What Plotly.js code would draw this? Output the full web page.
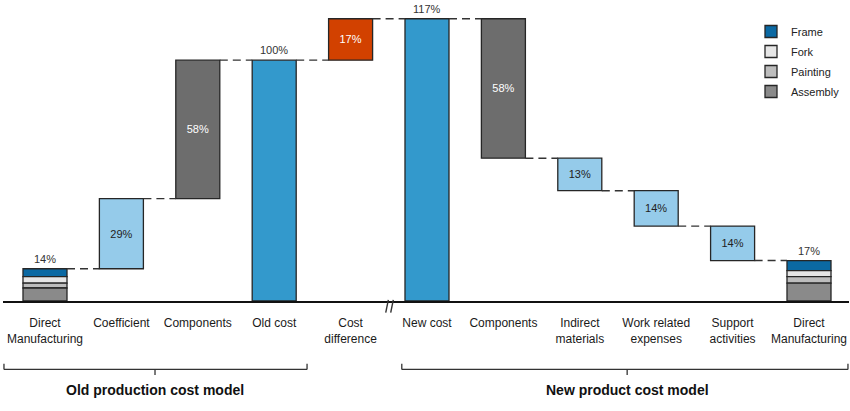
<!DOCTYPE html>
<html><head><meta charset="utf-8">
<script src="https://cdn.plot.ly/plotly-3.0.1.min.js"></script>
<style>html,body{margin:0;padding:0;background:#fff}#chart{width:850px;height:411px}</style>
</head><body><div id="chart"></div>
<script>
// ---- data ----
const categories = ['Direct<br>Manufacturing','Coefficient','Components','Old cost','Cost<br>difference','New cost','Components','Indirect<br>materials','Work related<br>expenses','Support<br>activities','Direct<br>Manufacturing'];
const barKinds = ['stack','step','step','total','step','total','step','step','step','step','stack'];
const barValues = [null, 29.1, 57.5, 100, 17.2, 117.2, -57.9, -13.5, -14.7, -14.3, null];
const valueLabels = ['14%','29%','58%','100%','17%','117%','58%','13%','14%','14%','17%'];
const stackPositions = [0, 10];
const frameValues = [3.3, 4.2];
const forkValues = [2.7, 2.5];
const paintingValues = [2.0, 2.7];
const assemblyValues = [5.4, 7.4];
const groupNames = ['Old production cost model','New product cost model'];
const groupRanges = [[-0.537, 3.43, 1.44], [4.67, 10.51, 7.62]];

// ---- styles ----
const barColors = ['', '#95cbea', '#6d6d6d', '#3399cc', '#d24100', '#3399cc', '#6d6d6d', '#95cbea', '#95cbea', '#95cbea', ''];
const textColors = ['', '#222', '#fff', '', '#fff', '', '#fff', '#222', '#222', '#222', ''];
const segColors = {Frame:'#0b69a3', Fork:'#e6e6e6', Painting:'#bdbdbd', Assembly:'#8a8a8a'};
const W = 0.576;
const edge = {color:'#262626', width:1.3};
const FONT = 'Liberation Sans, Arial, sans-serif';

// stack totals
const stackTotals = stackPositions.map((p,k)=>frameValues[k]+forkValues[k]+paintingValues[k]+assemblyValues[k]);

// running levels
let level = 0;
const bases = [], tops = [], after = [];
for (let i=0;i<categories.length;i++){
  const kind = barKinds[i];
  if (kind==='stack'){ const t = stackTotals[stackPositions.indexOf(i)]; bases.push(0); tops.push(t); level=t; }
  else if (kind==='total'){ bases.push(0); tops.push(barValues[i]); level=barValues[i]; }
  else { bases.push(level); level += barValues[i]; tops.push(Math.max(level,bases[i])); }
  after.push(level);
}

const traces = [];
// stacked segments
const segs = [['Frame',frameValues],['Fork',forkValues],['Painting',paintingValues],['Assembly',assemblyValues]];
const order = ['Assembly','Painting','Fork','Frame'];
const segBase = {};
stackPositions.forEach((p,k)=>{
  let b=0;
  order.forEach(n=>{ const arr = segs.find(s=>s[0]===n)[1]; segBase[n]=segBase[n]||[]; segBase[n][k]=b; b+=arr[k]; });
});
segs.forEach(([name,vals])=>{
  traces.push({type:'bar', name:name, legendgroup:name, x:stackPositions, y:vals, base:segBase[name],
    width:W, marker:{color:segColors[name], line:edge}, hoverinfo:'skip'});
});
// waterfall bars
const idx = categories.map((c,i)=>i).filter(i=>barKinds[i]!=='stack');
traces.push({type:'bar', showlegend:false, x:idx,
  y: idx.map(i=>barValues[i]), base: idx.map(i=>bases[i]), width:W,
  marker:{color: idx.map(i=>barColors[i]), line:edge},
  text: idx.map(i=>barKinds[i]==='step'?valueLabels[i]:''),
  textposition:'inside', insidetextanchor:'middle', textangle:0, constraintext:'none',
  textfont:{family:FONT, size:11, color: idx.map(i=>textColors[i])}, hoverinfo:'skip'});

// connectors
const shapes = [];
for (let i=0;i<categories.length-1;i++){
  shapes.push({type:'line', xref:'x', yref:'y', x0:i+W/2, x1:i+1-W/2, y0:after[i], y1:after[i],
    line:{color:'#333', width:1.4, dash:'8px,5px'}});
}
// axis break
shapes.push({type:'line', xref:'x', yref:'paper', x0:4.494, x1:4.46, y0:0.004, y1:-0.04, line:{color:'#333', width:1.4}});
shapes.push({type:'line', xref:'x', yref:'paper', x0:4.559, x1:4.525, y0:0.004, y1:-0.04, line:{color:'#333', width:1.4}});
// brackets
const yTop = -0.2169, yMid = -0.2366, yLow = -0.2563;
groupRanges.forEach(([a,b,c])=>{
  const ln = {color:'#333', width:1.3};
  shapes.push({type:'line', xref:'x', yref:'paper', x0:a, x1:b, y0:yMid, y1:yMid, line:ln});
  shapes.push({type:'line', xref:'x', yref:'paper', x0:a, x1:a, y0:yTop, y1:yMid, line:ln});
  shapes.push({type:'line', xref:'x', yref:'paper', x0:b, x1:b, y0:yTop, y1:yMid, line:ln});
  shapes.push({type:'line', xref:'x', yref:'paper', x0:c, x1:c, y0:yMid, y1:yLow, line:ln});
});

// annotations
const annotations = [];
categories.forEach((c,i)=>{
  if (barKinds[i]==='stack' || barKinds[i]==='total'){
    annotations.push({xref:'x', yref:'y', x:i, y:tops[i], text:valueLabels[i], showarrow:false,
      yanchor:'bottom', yshift:2, font:{family:FONT, size:11, color:'#333'}});
  }
});
groupNames.forEach((g,k)=>{
  annotations.push({xref:'x', yref:'paper', x:groupRanges[k][2], y:-0.309, text:'<b>'+g+'</b>', showarrow:false,
    yanchor:'middle', font:{family:FONT, size:14, color:'#111'}});
});

const layout = {
  width:850, height:411, margin:{l:3, r:1, t:12, b:109.5},
  paper_bgcolor:'#fff', plot_bgcolor:'#fff', barmode:'overlay',
  xaxis:{range:[-0.5497, 10.5236], tickvals:categories.map((c,i)=>i), ticktext:categories,
    showgrid:false, zeroline:false, showline:true, linecolor:'#111', linewidth:2, ticks:'',
    ticklabelstandoff:10, tickfont:{family:FONT, size:12, color:'#1a1a1a'}, fixedrange:true},
  yaxis:{range:[0,120], visible:false, fixedrange:true},
  showlegend:true,
  legend:{x:(751-3)/846, xanchor:'left', y:(301.5-17)/289.5, yanchor:'top', traceorder:'grouped', tracegroupgap:1,
    bgcolor:'rgba(0,0,0,0)', font:{family:FONT, size:11, color:'#222'}},
  shapes:shapes, annotations:annotations
};
Plotly.newPlot('chart', traces, layout, {displayModeBar:false, staticPlot:true});
</script></body></html>
